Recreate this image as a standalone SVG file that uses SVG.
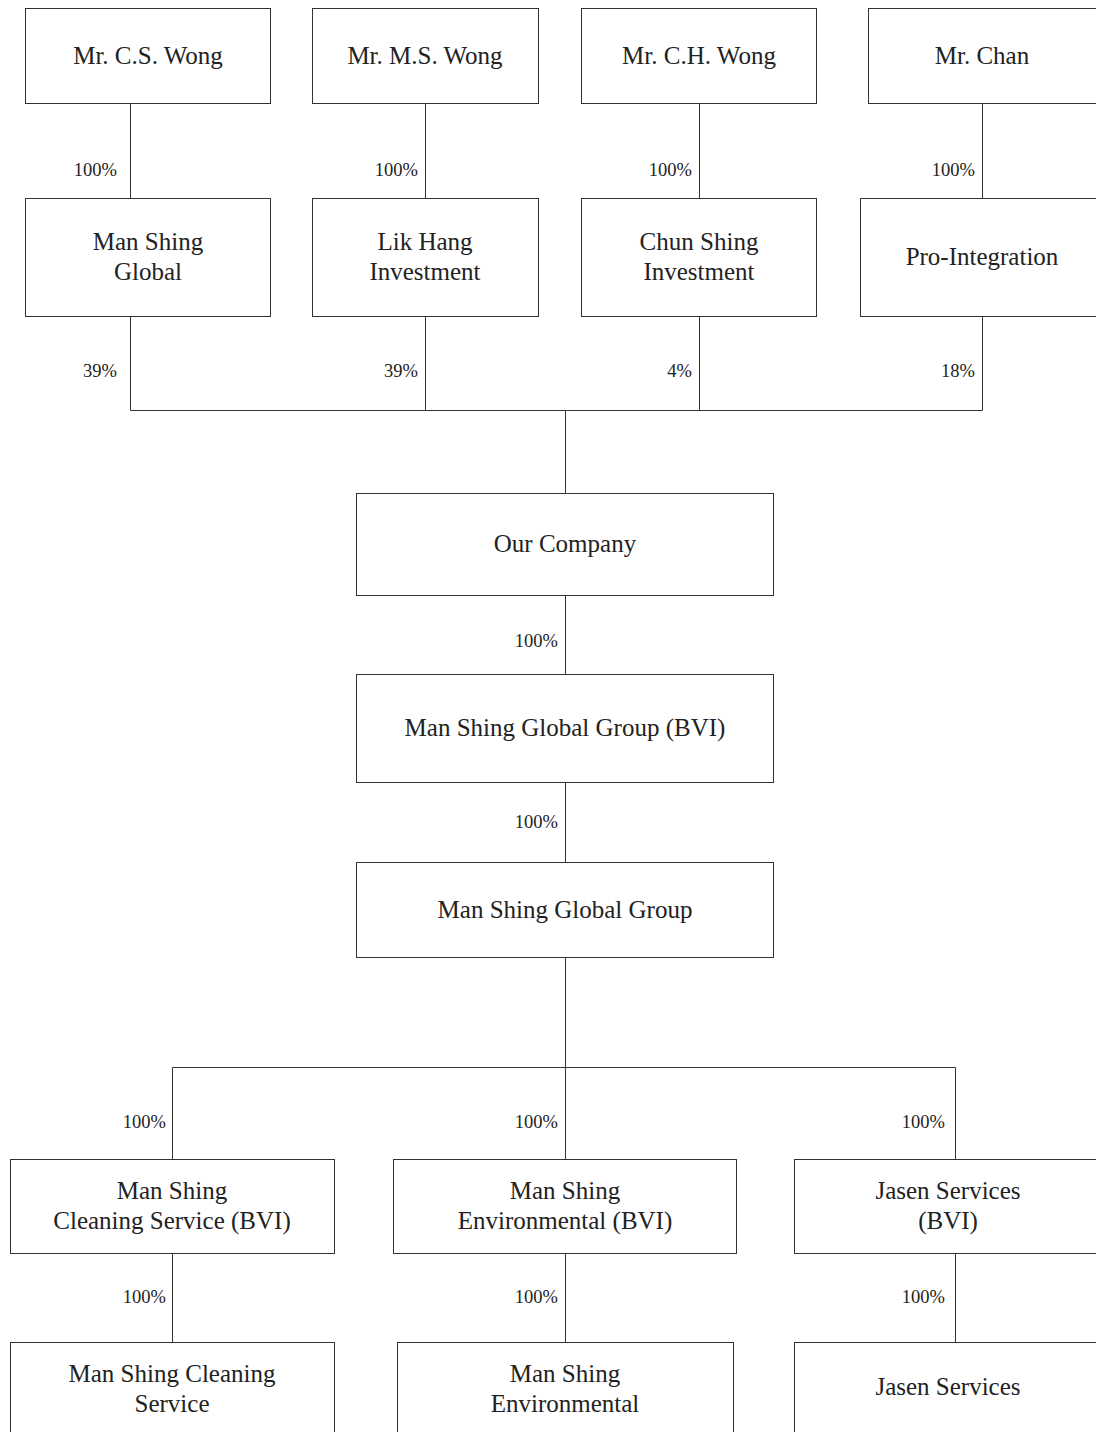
<svg xmlns="http://www.w3.org/2000/svg" width="1096" height="1432" viewBox="0 0 1096 1432">
<style>
.box{fill:#fff;stroke:#333;stroke-width:1}
.t{font-family:"Liberation Serif","Times New Roman",serif;font-size:25px;fill:#222;text-anchor:middle}
.p{font-family:"Liberation Serif","Times New Roman",serif;font-size:18.5px;fill:#222;text-anchor:end}
.c{stroke:#333;stroke-width:1;fill:none}
</style>
<rect width="1096" height="1432" fill="#fff"/>
<g id="connectors">
<path class="c" d="M130.5 103V198M425.5 103V198M699.5 103V198M982.5 103V198"/>
<path class="c" d="M130.5 316V410.5H982.5M425.5 316V410.5M699.5 316V410.5M982.5 316V410.5M565.5 410.5V493"/>
<path class="c" d="M565.5 595V674M565.5 782V862M565.5 957V1159"/>
<path class="c" d="M172.5 1159V1067.5H955.5V1159"/>
<path class="c" d="M172.5 1253V1342M565.5 1253V1342M955.5 1253V1342"/>
</g>
<g id="labels">
<text class="p" x="117" y="176">100%</text>
<text class="p" x="418" y="176">100%</text>
<text class="p" x="692" y="176">100%</text>
<text class="p" x="975" y="176">100%</text>
<text class="p" x="117" y="377">39%</text>
<text class="p" x="418" y="377">39%</text>
<text class="p" x="692" y="377">4%</text>
<text class="p" x="975" y="377">18%</text>
<text class="p" x="558" y="647">100%</text>
<text class="p" x="558" y="828">100%</text>
<text class="p" x="166" y="1128">100%</text>
<text class="p" x="558" y="1128">100%</text>
<text class="p" x="945" y="1128">100%</text>
<text class="p" x="166" y="1303">100%</text>
<text class="p" x="558" y="1303">100%</text>
<text class="p" x="945" y="1303">100%</text>
</g>
<g id="n-cswong"><rect class="box" x="25.5" y="8.5" width="245" height="95"/><text class="t" x="148" y="64">Mr. C.S. Wong</text></g>
<g id="n-mswong"><rect class="box" x="312.5" y="8.5" width="226" height="95"/><text class="t" x="425" y="64">Mr. M.S. Wong</text></g>
<g id="n-chwong"><rect class="box" x="581.5" y="8.5" width="235" height="95"/><text class="t" x="699" y="64">Mr. C.H. Wong</text></g>
<g id="n-chan"><rect class="box" x="868.5" y="8.5" width="240" height="95"/><text class="t" x="982" y="64">Mr. Chan</text></g>
<g id="n-msglobal"><rect class="box" x="25.5" y="198.5" width="245" height="118"/><text class="t" x="148" y="250">Man Shing</text><text class="t" x="148" y="280">Global</text></g>
<g id="n-likhang"><rect class="box" x="312.5" y="198.5" width="226" height="118"/><text class="t" x="425" y="250">Lik Hang</text><text class="t" x="425" y="280">Investment</text></g>
<g id="n-chunshing"><rect class="box" x="581.5" y="198.5" width="235" height="118"/><text class="t" x="699" y="250">Chun Shing</text><text class="t" x="699" y="280">Investment</text></g>
<g id="n-prointegration"><rect class="box" x="860.5" y="198.5" width="250" height="118"/><text class="t" x="982" y="265">Pro-Integration</text></g>
<g id="n-ourcompany"><rect class="box" x="356.5" y="493.5" width="417" height="102"/><text class="t" x="565" y="552">Our Company</text></g>
<g id="n-msggbvi"><rect class="box" x="356.5" y="674.5" width="417" height="108"/><text class="t" x="565" y="736">Man Shing Global Group (BVI)</text></g>
<g id="n-msgg"><rect class="box" x="356.5" y="862.5" width="417" height="95"/><text class="t" x="565" y="918">Man Shing Global Group</text></g>
<g id="n-mscsbvi"><rect class="box" x="10.5" y="1159.5" width="324" height="94"/><text class="t" x="172" y="1199">Man Shing</text><text class="t" x="172" y="1229">Cleaning Service (BVI)</text></g>
<g id="n-msebvi"><rect class="box" x="393.5" y="1159.5" width="343" height="94"/><text class="t" x="565" y="1199">Man Shing</text><text class="t" x="565" y="1229">Environmental (BVI)</text></g>
<g id="n-jsbvi"><rect class="box" x="794.5" y="1159.5" width="320" height="94"/><text class="t" x="948" y="1199">Jasen Services</text><text class="t" x="948" y="1229">(BVI)</text></g>
<g id="n-mscs"><rect class="box" x="10.5" y="1342.5" width="324" height="120"/><text class="t" x="172" y="1382">Man Shing Cleaning</text><text class="t" x="172" y="1412">Service</text></g>
<g id="n-mse"><rect class="box" x="397.5" y="1342.5" width="336" height="120"/><text class="t" x="565" y="1382">Man Shing</text><text class="t" x="565" y="1412">Environmental</text></g>
<g id="n-js"><rect class="box" x="794.5" y="1342.5" width="320" height="120"/><text class="t" x="948" y="1395">Jasen Services</text></g>
</svg>
